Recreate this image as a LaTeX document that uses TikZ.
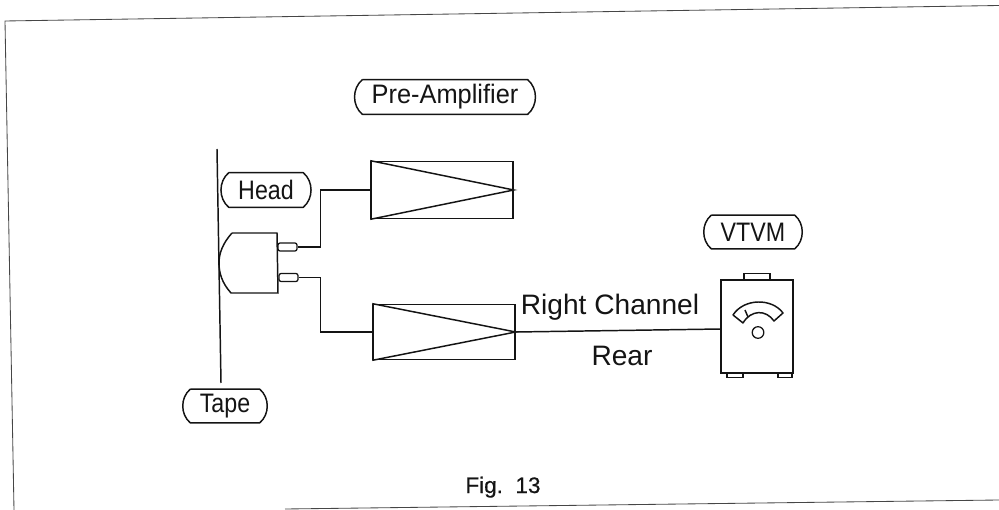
\documentclass[tikz,border=0pt]{standalone}
\usepackage{fontspec}
\setmainfont{Liberation Sans}
\newfontfamily\pilhafont[FakeStretch=0.87]{Liberation Sans}
\newfontfamily\pilhalarga[FakeStretch=0.95]{Liberation Sans}
\newfontfamily\figfont[FakeBold=0.5]{Liberation Sans}
\usetikzlibrary{calc}
\definecolor{ScanInk}{RGB}{20,20,20}
\definecolor{ScanFrame}{RGB}{70,70,70}
\tikzset{
  pilha/.style={inner sep=0pt, font=\pilhafont\fontsize{19}{21}\selectfont, text=ScanInk},
  caixa/.style={draw=ScanInk, line width=1.05pt, fill=white, inner sep=0pt},
  pino/.style={draw=ScanInk, line width=0.9pt, rounded corners=1.5pt, inner sep=0pt, minimum width=0.475cm, minimum height=0.2cm},
  fio/.style={draw=ScanInk, line width=1.05pt},
  rotulo/.style={anchor=base, inner sep=0pt, font=\fontsize{20}{22}\selectfont, text=ScanInk},
}
\begin{document}
\begin{tikzpicture}[x=0.025cm, y=-0.025cm]
  \useasboundingbox (0,0) rectangle (999,510);

  % ------------------------------------------------------------------ frame
  \draw[ScanFrame, line width=0.6pt] (999,5.5) -- (5,21) -- (14,510);
  \draw[ScanFrame, line width=0.6pt] (285,509) -- (999,500);

  % ------------------------------------------------------------------ labels
  \node[pilha, minimum width=1.85cm, minimum height=0.85cm] (head) at (266,190) {Head};
  \node[pilha, minimum width=1.72cm, minimum height=0.83cm] (tape) at (225,406) {Tape};
  \node[pilha, font=\pilhalarga\fontsize{19}{21}\selectfont, minimum width=4.12cm, minimum height=0.85cm] (preamp) at (445,97) {Pre-Amplifier};
  \node[pilha, minimum width=2.07cm, minimum height=0.83cm] (vtvmlabel) at (753,232) {VTVM};
  \foreach \n in {head,tape,preamp,vtvmlabel}{
    \draw[fio, line join=round] (\n.north west) -- (\n.north east) to[bend left=50] (\n.south east)
      -- (\n.south west) to[bend left=50] (\n.north west);
  }

  % ------------------------------------------------------------------ tape and head
  \coordinate (tapetop) at (217,149);
  \coordinate (tapebot) at (221,383);
  \draw[fio] (tapetop) -- (tapebot);
  \draw[fio] (232,233) -- (277,233) -- (278,293) -- (231,293)
    .. controls (222,283) and (219,273) .. (219,263) .. controls (219,253) and (223,243) .. (232,233);
  \node[pino] (pinoa) at (287.5,247) {};
  \node[pino] (pinob) at (288.5,277.5) {};

  % ------------------------------------------------------------------ amplifiers
  \node[caixa, minimum width=3.55cm, minimum height=1.43cm] (ampa) at (442,190) {};
  \node[caixa, minimum width=3.55cm, minimum height=1.38cm] (ampb) at (444,332) {};
  \foreach \a in {ampa,ampb}{
    \draw[fio] (\a.north west) -- (\a.east) -- (\a.south west);
  }
  \draw[fio] (pinoa.east) -- ++(23,0) |- (ampa.west);
  \draw[fio] (pinob.east) -- ++(22,0) |- (ampb.west);

  % ------------------------------------------------------------------ meter
  \node[caixa, minimum width=1.8cm, minimum height=2.33cm] (vtvm) at (757,326.5) {};
  \node[caixa, minimum width=0.65cm, minimum height=0.15cm, anchor=south] (alca) at (757,280) {};
  \node[caixa, minimum width=0.4cm, minimum height=0.1cm, anchor=north] (pea) at (735,373) {};
  \node[caixa, minimum width=0.35cm, minimum height=0.1cm, anchor=north] (peb) at (785,373) {};
  \draw[fio, line join=round] (733,315) .. controls (744,298) and (772,298) .. (783,313)
    -- (774,321) .. controls (766,309.5) and (751,309.5) .. (743,323) -- cycle;
  \draw[fio] (745,310) -- (748,317);
  \node[draw=ScanInk, line width=0.9pt, circle, inner sep=0pt, minimum size=0.29cm] (botao) at (758,332.5) {};
  \coordinate (entrada) at (721,329);
  \draw[fio] (ampb.east) -- (entrada);

  % ------------------------------------------------------------------ texts
  \node[rotulo] (canal) at (610,315) {Right Channel};
  \node[rotulo] (rear) at (622,366) {Rear};
  \node[anchor=base, inner sep=0pt, font=\figfont\fontsize{16}{18}\selectfont, text=ScanInk] (fig) at (503,493) {Fig.\ \ 13};
\end{tikzpicture}
\end{document}
